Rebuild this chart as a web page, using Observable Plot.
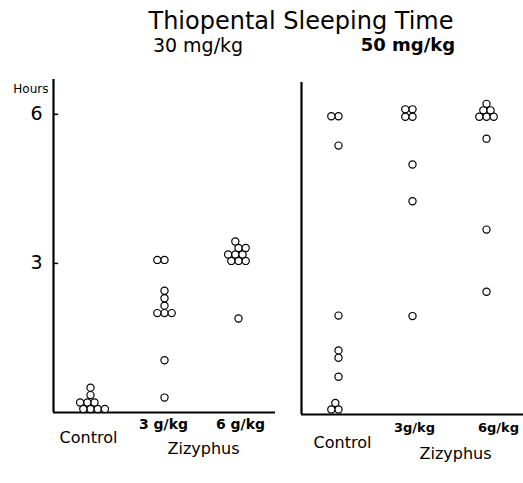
<!DOCTYPE html>
<html><head><meta charset="utf-8">
<script src="https://cdn.jsdelivr.net/npm/d3@7"></script>
<script src="https://cdn.jsdelivr.net/npm/@observablehq/plot@0.6"></script>
<style>
body{margin:0;background:#fff;font-family:"DejaVu Sans",sans-serif;}
#wrap{position:relative;width:523px;height:483px;overflow:hidden;background:#fff;}
.t{position:absolute;text-align:center;color:#000;white-space:nowrap;}
</style></head><body>
<div id="wrap">
<div id="left" style="position:absolute;left:0;top:0"></div>
<div id="right" style="position:absolute;left:280px;top:0"></div>
<div class="t" style="left:101px;width:400px;top:9px;font-size:24px;line-height:24px;">Thiopental Sleeping Time</div>
<div class="t" style="left:98px;width:200px;top:36px;font-size:19px;line-height:19px;">30 mg/kg</div>
<div class="t" style="left:308px;width:200px;top:36px;font-size:18px;line-height:18px;font-weight:bold;">50 mg/kg</div>
</div>
<script>
const groups = ["Control", "3 g/kg", "6 g/kg"];
const labels30 = ["Control", "3 g/kg", "6 g/kg"];
const labels50 = ["Control", "3g/kg", "6g/kg"];
const groupLabel = "Zizyphus";
const yTicks = [3, 6];

// 30 mg/kg thiopental (hours)
const control30 = [0.07, 0.07, 0.07, 0.07, 0.2, 0.2, 0.2, 0.35, 0.5];
const ziz3g30 = [3.07, 3.07, 2.0, 2.0, 2.0, 2.15, 2.3, 2.45, 1.05, 0.3];
const ziz6g30 = [3.05, 3.05, 3.05, 3.18, 3.18, 3.18, 3.31, 3.31, 3.44, 1.89];

// 50 mg/kg thiopental (hours)
const control50 = [6.0, 6.0, 5.41, 1.99, 1.29, 1.14, 0.76, 0.1, 0.1, 0.23];
const ziz3g50 = [6.14, 6.14, 5.99, 5.99, 5.03, 4.29, 1.98];
const ziz6g50 = [5.99, 5.99, 5.99, 6.12, 6.12, 6.25, 5.55, 3.72, 2.47];

const toRows = (arrs) => arrs.flatMap((a, i) => a.map(h => ({group: groups[i], hours: h})));
const rows30 = toRows([control30, ziz3g30, ziz6g30]);
const rows50 = toRows([control50, ziz3g50, ziz6g50]);

const dotOpts = {y: "hours", fx: "group", r: 3.6, fill: "white", stroke: "black", strokeWidth: 1.2};
const baseStyle = {fontFamily: "DejaVu Sans", fontSize: "19px", background: "transparent", color: "black", overflow: "visible"};

const left = Plot.plot({
  width: 280, height: 483,
  marginLeft: 53, marginRight: 5, marginTop: 79, marginBottom: 71,
  style: baseStyle,
  fx: {domain: groups, padding: 0, axis: null, label: null},
  x: {domain: [0, 1], axis: null},
  y: {domain: [0, 6.7], ticks: yTicks, tickSize: 0, tickPadding: 11, label: null, tickFormat: d => String(d)},
  marks: [
    Plot.ruleY([0], {strokeWidth: 2.2}),
    Plot.ruleX([0], {fx: ["Control"], y1: 0, y2: 6.7, strokeWidth: 2.2}),
    Plot.ruleY(yTicks, {fx: yTicks.map(() => "Control"), x1: 0, x2: 0.07, strokeWidth: 1.5}),
    Plot.dot(rows30, Plot.dodgeX({anchor: "middle", padding: 0}, dotOpts)),
    Plot.text(["Hours"], {text: d => d, fx: ["Control"], frameAnchor: "top-left", textAnchor: "end", dx: -5, dy: 5, fontSize: 12}),
    Plot.text([labels30[0]], {text: d => d, fx: [groups[0]], frameAnchor: "bottom", dx: -2, dy: 30, fontSize: 16}),
    Plot.text([labels30[1]], {text: d => d, fx: [groups[1]], frameAnchor: "bottom", dx: -1, dy: 16, fontSize: 14, fontWeight: 600}),
    Plot.text([labels30[2]], {text: d => d, fx: [groups[2]], frameAnchor: "bottom", dx: 2, dy: 16, fontSize: 14, fontWeight: 600}),
    Plot.text([groupLabel], {text: d => d, fx: [groups[1]], frameAnchor: "bottom-right", textAnchor: "middle", dx: 2, dy: 41, fontSize: 16})
  ]
});

const right = Plot.plot({
  width: 243, height: 483,
  marginLeft: 21, marginRight: 0, marginTop: 82, marginBottom: 69,
  style: baseStyle,
  fx: {domain: groups, padding: 0, axis: null, label: null},
  x: {domain: [0, 1], axis: null},
  y: {domain: [0, 6.68], axis: null},
  marks: [
    Plot.ruleY([0], {strokeWidth: 2.2}),
    Plot.ruleX([0], {fx: ["Control"], y1: 0, y2: 6.68, strokeWidth: 2.2}),
    Plot.dot(rows50, Plot.dodgeX({anchor: "middle", padding: 0}, dotOpts)),
    Plot.text([labels50[0]], {text: d => d, fx: [groups[0]], frameAnchor: "bottom", dx: 4, dy: 33, fontSize: 16}),
    Plot.text([labels50[1]], {text: d => d, fx: [groups[1]], frameAnchor: "bottom", dx: 2, dy: 17, fontSize: 13, fontWeight: "bold"}),
    Plot.text([labels50[2]], {text: d => d, fx: [groups[2]], frameAnchor: "bottom", dx: 12, dy: 17, fontSize: 13, fontWeight: "bold"}),
    Plot.text([groupLabel], {text: d => d, fx: [groups[1]], frameAnchor: "bottom-right", textAnchor: "middle", dx: 6, dy: 44, fontSize: 16})
  ]
});

document.getElementById("left").appendChild(left);
document.getElementById("right").appendChild(right);
</script>
</body></html>
